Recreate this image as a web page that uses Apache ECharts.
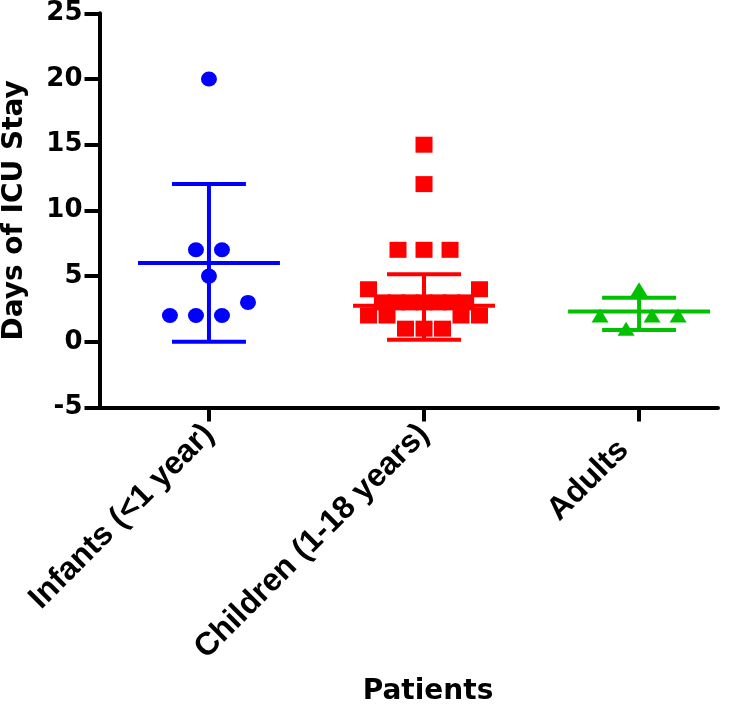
<!DOCTYPE html>
<html>
<head>
<meta charset="utf-8">
<script src="https://cdn.jsdelivr.net/npm/echarts@6/dist/echarts.min.js"></script>
<style>
  html, body { margin: 0; padding: 0; background: #fff; }
  #chart { width: 750px; height: 706px; }
</style>
</head>
<body>
<div id="chart"></div>
<script>
// ---------- data ----------
const categories = ['Infants (<1 year)', 'Children (1-18 years)', 'Adults'];
const infantsDays = [20, 7, 7, 5, 3, 2, 2, 2];
const childrenDays = [15, 12, 7, 7, 7, 4, 4, 3, 3, 3, 3, 3, 3, 3, 2, 2, 2, 2, 1, 1, 1];
const adultsDays = [4, 2, 2, 2, 1];
const meanDays = [6.0, 2.75, 2.3];
const sdLow = [0.0, 0.15, 0.9];
const sdHigh = [12.0, 5.15, 3.35];
const yTickValues = [-5, 0, 5, 10, 15, 20, 25];
const axisTitleX = 'Patients';
const axisTitleY = 'Days of ICU Stay';

// ---------- styling / layout constants ----------
const groupColors = ['#0000FF', '#FF0000', '#00C000'];
const groupSymbols = ['circle', 'rect', 'triangle'];
const groupSymbolSizes = [[16, 15], [17, 16], [17, 14]];
const FONT = '"DejaVu Sans", "Liberation Sans", Arial, sans-serif';
const FONT_CAT = '"Liberation Sans", Arial, sans-serif';
const labelEndPad = [0, 0, 22];   // extra gap at the end of each category label
const ROW_SPAN = 1.5;      // values closer than this share a row in the scatter
const STEP = 0.121;        // horizontal spacing between points in a row (category units)
const MAX_WIDTH = 0.516;   // maximum row width (category units)
const MEAN_HALF = 0.33;
const CAP_HALF = 0.172;

// column scatter layout (Prism-like rows, centre-out)
function columnPoints(values, idx) {
  const sorted = values.slice().sort((a, b) => a - b);
  const rows = [];
  let cur = null;
  sorted.forEach(v => {
    if (cur && v - cur[0] < ROW_SPAN) cur.push(v);
    else { cur = [v]; rows.push(cur); }
  });
  const pts = [];
  rows.forEach(row => {
    const n = row.length;
    const step = n > 1 ? Math.min(STEP, MAX_WIDTH / (n - 1)) : 0;
    const slots = [];
    for (let k = 0; k < n; k++) slots.push((k - (n - 1) / 2) * step);
    slots.sort((a, b) => (Math.abs(a) - Math.abs(b)) || (a - b));
    row.forEach((v, i) => pts.push([idx + slots[i], v]));
  });
  return pts;
}

const groups = [infantsDays, childrenDays, adultsDays];
const scatterSeries = groups.map((vals, i) => ({
  name: categories[i],
  type: 'scatter',
  data: columnPoints(vals, i),
  symbol: groupSymbols[i],
  symbolSize: groupSymbolSizes[i],
  itemStyle: { color: groupColors[i], opacity: 1 },
  z: 2
}));

const statData = categories.map((c, i) => [i, meanDays[i], sdLow[i], sdHigh[i]]);

const statSeries = {
  type: 'custom',
  data: statData,
  z: 3,
  encode: { x: 0, y: 1 },
  renderItem: function (params, api) {
    const i = api.value(0), m = api.value(1), lo = api.value(2), hi = api.value(3);
    const col = groupColors[Math.round(i)];
    const st = { stroke: col, lineWidth: 4, fill: null };
    const pMean = api.coord([i, m]);
    const pLo = api.coord([i, lo]);
    const pHi = api.coord([i, hi]);
    const xm1 = api.coord([i - MEAN_HALF, m])[0];
    const xm2 = api.coord([i + MEAN_HALF, m])[0];
    const xc1 = api.coord([i - CAP_HALF, m])[0];
    const xc2 = api.coord([i + CAP_HALF, m])[0];
    return {
      type: 'group',
      children: [
        { type: 'line', shape: { x1: pMean[0], y1: pLo[1], x2: pMean[0], y2: pHi[1] }, style: st },
        { type: 'line', shape: { x1: xc1, y1: pLo[1], x2: xc2, y2: pLo[1] }, style: st },
        { type: 'line', shape: { x1: xc1, y1: pHi[1], x2: xc2, y2: pHi[1] }, style: st },
        { type: 'line', shape: { x1: xm1, y1: pMean[1], x2: xm2, y2: pMean[1] }, style: st }
      ]
    };
  }
};

const catRich = {};
categories.forEach((c, i) => {
  catRich['c' + i] = {
    fontFamily: FONT_CAT, fontWeight: 'bold', fontSize: 32, color: '#000',
    padding: [0, labelEndPad[i], 0, 0]
  };
});

const chart = echarts.init(document.getElementById('chart'), null, { renderer: 'canvas' });
chart.setOption({
  animation: false,
  backgroundColor: '#ffffff',
  textStyle: { fontFamily: FONT },
  title: {
    text: axisTitleX,
    left: 423,
    top: 673,
    textAlign: 'center',
    textStyle: { fontFamily: FONT, fontWeight: 'bold', fontSize: 28, color: '#000' }
  },
  grid: { left: 99.5, right: 32, top: 13.3, bottom: 298.5, containLabel: false, outerBoundsMode: 'none' },
  xAxis: {
    type: 'value',
    min: -0.509,
    max: 2.367,
    splitLine: { show: false },
    axisLine: { show: true, onZero: false, lineStyle: { color: '#000', width: 4 } },
    axisTick: { show: true, inside: false, length: 14, customValues: [0, 1, 2], lineStyle: { color: '#000', width: 4 } },
    axisLabel: {
      show: true,
      customValues: [0, 1, 2],
      rotate: 45,
      margin: 22,
      formatter: v => { const i = Math.round(v); return '{c' + i + '|' + categories[i] + '}'; },
      rich: catRich,
      fontFamily: FONT_CAT, fontWeight: 'bold', fontSize: 32, color: '#000'
    }
  },
  yAxis: {
    type: 'value',
    min: yTickValues[0],
    max: yTickValues[yTickValues.length - 1],
    interval: 5,
    splitLine: { show: false },
    axisLine: { show: true, onZero: false, lineStyle: { color: '#000', width: 4 } },
    axisTick: { show: true, inside: false, length: 15, lineStyle: { color: '#000', width: 4 } },
    axisLabel: { margin: 17, fontFamily: FONT, fontWeight: 'bold', fontSize: 26, color: '#000' },
    name: axisTitleY,
    nameLocation: 'middle',
    nameGap: 71,
    nameTextStyle: { fontFamily: FONT, fontWeight: 'bold', fontSize: 28, color: '#000' }
  },
  series: [...scatterSeries, statSeries]
});
</script>
</body>
</html>
